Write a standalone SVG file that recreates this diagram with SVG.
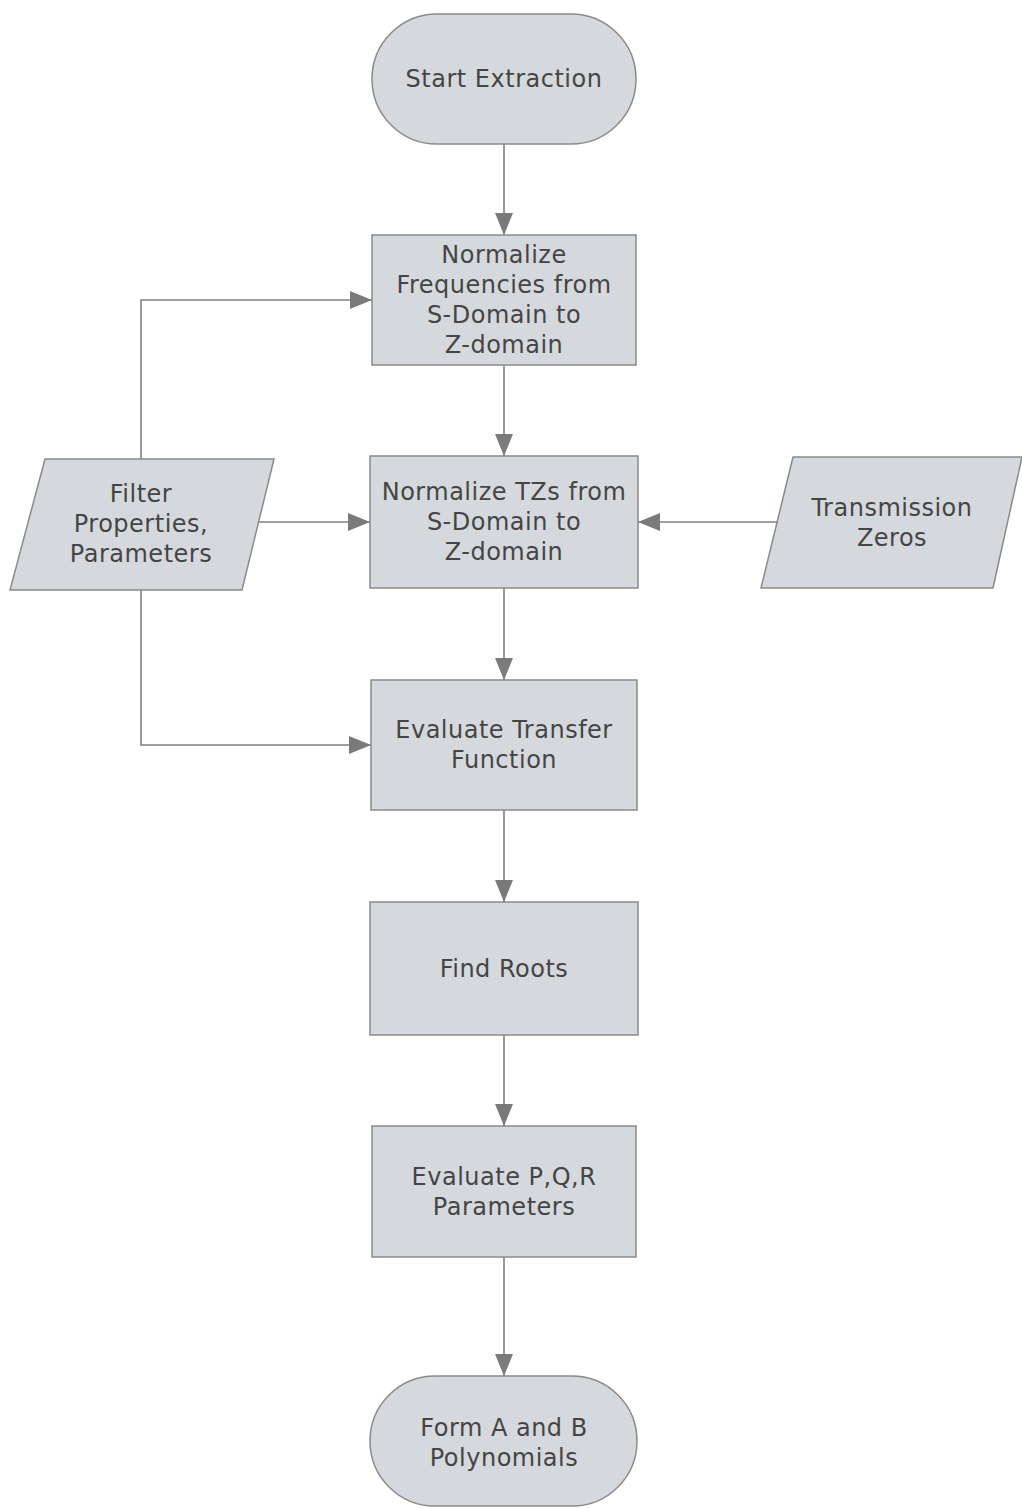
<svg xmlns="http://www.w3.org/2000/svg" width="1022" height="1508" viewBox="0 0 1022 1508">
  <style>
    .shape { fill: #d5d9de; stroke: #8a8a8a; stroke-width: 1.5; }
    .label { font-family: "DejaVu Sans", Verdana, sans-serif; font-size: 24px; letter-spacing: 0.5px; fill: #454545; text-anchor: middle; dominant-baseline: central; }
    .wire { fill: none; stroke: #808080; stroke-width: 1.6; }
  </style>
  <defs>
    <marker id="arrow" viewBox="0 0 22 18" refX="22" refY="9" markerWidth="22" markerHeight="18" markerUnits="userSpaceOnUse" orient="auto">
      <path d="M0,0 L22,9 L0,18 Z" fill="#7a7a7a"/>
    </marker>
  </defs>

  <rect width="1022" height="1508" fill="#ffffff"/>

  <!-- connectors -->
  <g id="connectors">
    <path class="wire" d="M504,144 V235" marker-end="url(#arrow)"/>
    <path class="wire" d="M504,365 V456" marker-end="url(#arrow)"/>
    <path class="wire" d="M141,459 V300 H372" marker-end="url(#arrow)"/>
    <path class="wire" d="M258,522 H370" marker-end="url(#arrow)"/>
    <path class="wire" d="M777,522 H638" marker-end="url(#arrow)"/>
    <path class="wire" d="M141,590 V745 H371" marker-end="url(#arrow)"/>
    <path class="wire" d="M504,588 V680" marker-end="url(#arrow)"/>
    <path class="wire" d="M504,810 V902" marker-end="url(#arrow)"/>
    <path class="wire" d="M504,1035 V1126" marker-end="url(#arrow)"/>
    <path class="wire" d="M504,1257 V1376" marker-end="url(#arrow)"/>
  </g>

  <g id="start">
    <rect class="shape" x="372" y="14" width="264" height="130" rx="65" ry="65"/>
    <text class="label" x="504" y="79">Start Extraction</text>
  </g>

  <g id="normalize-frequencies">
    <rect class="shape" x="372" y="235" width="264" height="130"/>
    <text class="label" x="504" y="255">Normalize</text>
    <text class="label" x="504" y="285">Frequencies from</text>
    <text class="label" x="504" y="315">S-Domain to</text>
    <text class="label" x="504" y="345">Z-domain</text>
  </g>

  <g id="normalize-tzs">
    <rect class="shape" x="370" y="456" width="268" height="132"/>
    <text class="label" x="504" y="492">Normalize TZs from</text>
    <text class="label" x="504" y="522">S-Domain to</text>
    <text class="label" x="504" y="552">Z-domain</text>
  </g>

  <g id="filter-properties">
    <polygon class="shape" points="45,459 274,459 242,590 10,590"/>
    <text class="label" x="141" y="494">Filter</text>
    <text class="label" x="141" y="524">Properties,</text>
    <text class="label" x="141" y="554">Parameters</text>
  </g>

  <g id="transmission-zeros">
    <polygon class="shape" points="793,457 1022,457 993,588 761,588"/>
    <text class="label" x="892" y="508">Transmission</text>
    <text class="label" x="892" y="538">Zeros</text>
  </g>

  <g id="evaluate-transfer">
    <rect class="shape" x="371" y="680" width="266" height="130"/>
    <text class="label" x="504" y="730">Evaluate Transfer</text>
    <text class="label" x="504" y="760">Function</text>
  </g>

  <g id="find-roots">
    <rect class="shape" x="370" y="902" width="268" height="133"/>
    <text class="label" x="504" y="969">Find Roots</text>
  </g>

  <g id="evaluate-pqr">
    <rect class="shape" x="372" y="1126" width="264" height="131"/>
    <text class="label" x="504" y="1177">Evaluate P,Q,R</text>
    <text class="label" x="504" y="1207">Parameters</text>
  </g>

  <g id="end">
    <rect class="shape" x="370" y="1376" width="267" height="130" rx="65" ry="65"/>
    <text class="label" x="504" y="1428">Form A and B</text>
    <text class="label" x="504" y="1458">Polynomials</text>
  </g>
</svg>
